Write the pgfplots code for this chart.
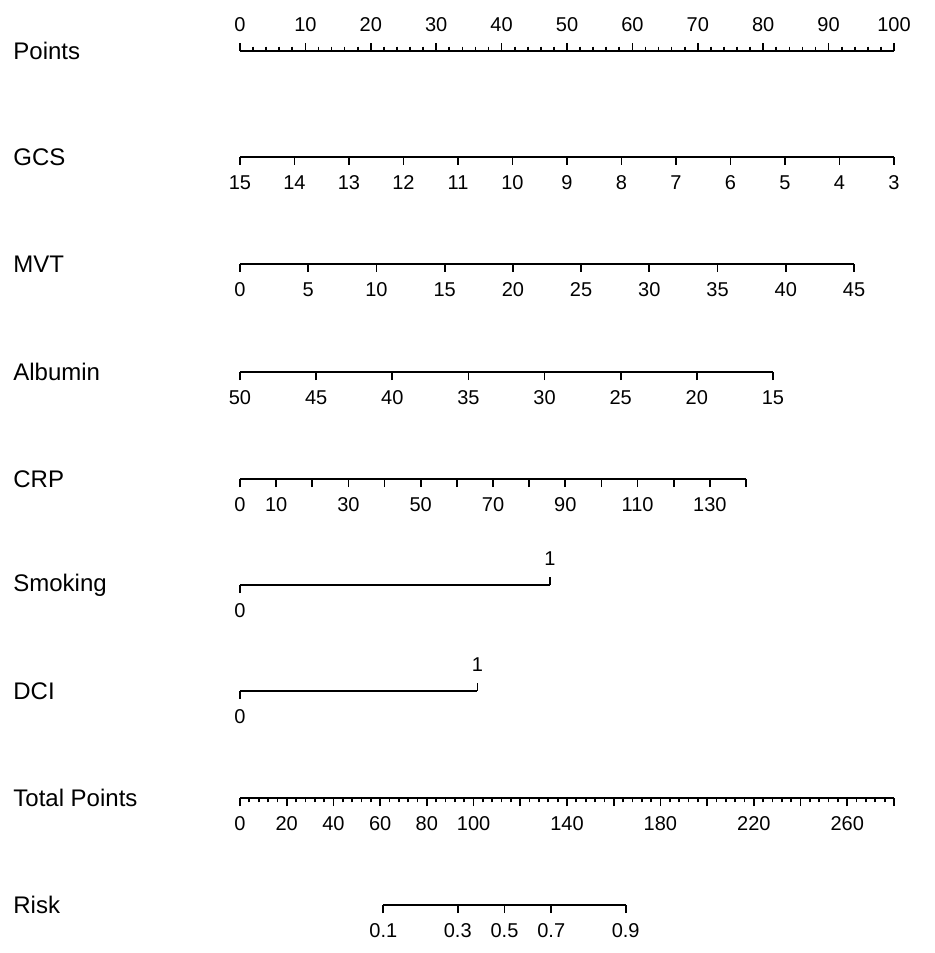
\documentclass[border=0pt]{standalone}
\usepackage{fontspec}
\setmainfont{Liberation Sans}
\usepackage{pgfplots}
\pgfplotsset{compat=1.18}
\pgfplotsset{
  nomo/.style={scale only axis, height=1pt, ymin=0, ymax=1,
    axis y line=none, ytick=\empty, clip=false,
    xtick style={black, line width=0.85pt},
    major tick length=4pt, minor tick length=2.2pt,
    tick label style={font=\fontsize{10}{12}\selectfont, inner sep=0pt}},
  fixlines/.style={axis line style={-, line width=0.85pt},
    every outer x axis line/.append style={-},
    every inner x axis line/.append style={-},
    tick align=outside},
  lo/.style={nomo, axis x line=bottom, fixlines, anchor=south west,
    xticklabel style={anchor=north, yshift=-5pt}},
  hi/.style={nomo, axis x line=top, fixlines, anchor=north west,
    xticklabel style={anchor=south, yshift=5.5pt}},
}
\begin{document}
\begin{tikzpicture}
\useasboundingbox (0,0) rectangle (467.5pt,-476.5pt);
% row names
\begin{scope}[every node/.style={anchor=west, inner sep=0pt, font=\fontsize{12}{14}\selectfont}]
\node at (6.5pt,-25.5pt) {Points};
\node at (6.5pt,-78.5pt) {GCS};
\node at (6.5pt,-132pt) {MVT};
\node at (6.5pt,-186pt) {Albumin};
\node at (6.5pt,-239.5pt) {CRP};
\node at (6.5pt,-292.5pt) {Smoking};
\node at (6.5pt,-345.5pt) {DCI};
\node at (6.5pt,-399pt) {Total Points};
\node at (6.5pt,-452.5pt) {Risk};
\end{scope}

% Points
\begin{axis}[hi, at={(120pt,-25.5pt)}, width=327pt, xmin=0, xmax=100,
  xtick={0,10,20,30,40,50,60,70,80,90,100}, minor tick num=4,
  xticklabels={0,10,20,30,40,50,60,70,80,90,100}]
\end{axis}

% GCS
\begin{axis}[lo, at={(120pt,-78.5pt)}, width=327pt, xmin=3, xmax=15, x dir=reverse,
  xtick={3,4,5,6,7,8,9,10,11,12,13,14,15},
  xticklabels={3,4,5,6,7,8,9,10,11,12,13,14,15}]
\end{axis}

% MVT
\begin{axis}[lo, at={(120pt,-132pt)}, width=307pt, xmin=0, xmax=45,
  xtick={0,5,10,15,20,25,30,35,40,45},
  xticklabels={0,5,10,15,20,25,30,35,40,45}]
\end{axis}

% Albumin
\begin{axis}[lo, at={(120pt,-186pt)}, width=266.5pt, xmin=15, xmax=50, x dir=reverse,
  xtick={15,20,25,30,35,40,45,50},
  xticklabels={15,20,25,30,35,40,45,50}]
\end{axis}

% CRP
\begin{axis}[lo, at={(120pt,-239.5pt)}, width=253pt, xmin=0, xmax=140,
  xtick={0,10,20,30,40,50,60,70,80,90,100,110,120,130,140},
  xticklabels={0,10,,30,,50,,70,,90,,110,,130,}]
\end{axis}

% Smoking
\begin{axis}[lo, at={(120pt,-292.5pt)}, width=155pt, xmin=0, xmax=1,
  xtick={0}, xticklabels={0}]
\end{axis}
\begin{axis}[hi, at={(120pt,-292.5pt)}, width=155pt, xmin=0, xmax=1,
  xtick={1}, xticklabels={1}]
\end{axis}

% DCI
\begin{axis}[lo, at={(120pt,-345.5pt)}, width=118.7pt, xmin=0, xmax=1,
  xtick={0}, xticklabels={0}]
\end{axis}
\begin{axis}[hi, at={(120pt,-345.5pt)}, width=118.7pt, xmin=0, xmax=1,
  xtick={1}, xticklabels={1}]
\end{axis}

% Total Points
\begin{axis}[lo, at={(120pt,-399pt)}, width=327pt, xmin=0, xmax=280,
  xtick={0,20,40,60,80,100,120,140,160,180,200,220,240,260,280}, minor tick num=4,
  xticklabels={0,20,40,60,80,100,,140,,180,,220,,260,}]
\end{axis}

% Risk (logit scale)
\begin{axis}[lo, at={(191.65pt,-452.5pt)}, width=121.2pt, xmin=-2.1972, xmax=2.1972,
  xtick={-2.1972,-0.8473,0,0.8473,2.1972},
  xticklabels={0.1,0.3,0.5,0.7,0.9}]
\end{axis}
\end{tikzpicture}
\end{document}
